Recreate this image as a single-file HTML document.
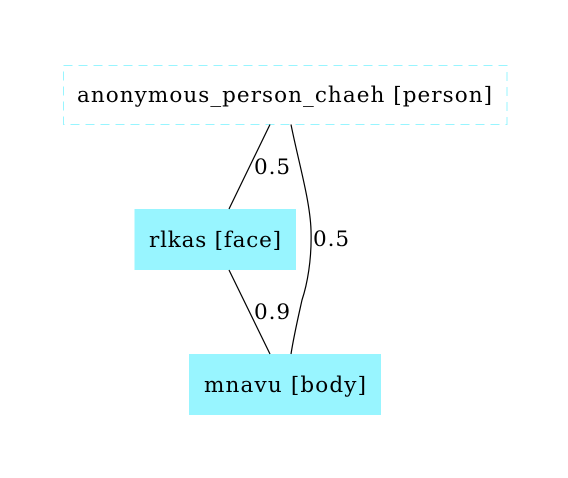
<!DOCTYPE html>
<html><head><meta charset="utf-8"><style>html,body{margin:0;padding:0;background:#fff}svg{display:block}</style></head>
<body>
<svg width="568" height="478" viewBox="0 0 568 478" xmlns="http://www.w3.org/2000/svg" font-family="'DejaVu Serif',serif" font-size="21.5">
<rect x="0" y="0" width="568" height="478" fill="#fff"/>
<rect x="63.5" y="65.5" width="443.5" height="59" fill="none" stroke="#98f5ff" stroke-dasharray="9,6"/>
<text x="77" y="102" textLength="415" lengthAdjust="spacing" fill="#000">anonymous_person_chaeh [person]</text>
<rect x="134.5" y="209" width="161.5" height="61" fill="#98f5ff"/>
<text x="149" y="247" textLength="132" lengthAdjust="spacing" fill="#000">rlkas [face]</text>
<rect x="189" y="354" width="192" height="61" fill="#98f5ff"/>
<text x="204" y="392" textLength="162" lengthAdjust="spacing" fill="#000">mnavu [body]</text>
<path d="M270,124.5 L229,209" stroke="#000" fill="none" stroke-width="1.2"/>
<path d="M229,270 L270,354" stroke="#000" fill="none" stroke-width="1.2"/>
<path d="M291,124.5 C298,160 310,200 311,230 C312,260 307,285 302,300 C298,318 294,335 291,354" stroke="#000" fill="none" stroke-width="1.2"/>
<text x="254" y="174" textLength="36" lengthAdjust="spacing" fill="#000">0.5</text>
<text x="313" y="246" textLength="36" lengthAdjust="spacing" fill="#000">0.5</text>
<text x="254" y="319" textLength="36" lengthAdjust="spacing" fill="#000">0.9</text>
</svg>
</body></html>
